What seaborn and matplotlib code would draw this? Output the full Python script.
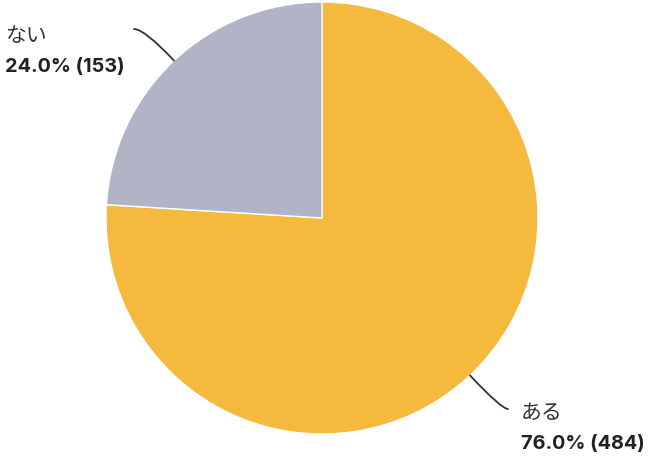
import numpy as np
import seaborn as sns
import matplotlib.pyplot as plt

# data
labels = ["ある", "ない"]
counts = [484, 153]
colors = ["#F5B93D", "#B1B3C6"]

sns.set_theme(style="white")
plt.rcParams["font.family"] = ["Noto Sans CJK JP", "DejaVu Sans"]

W, H = 650, 459
fig = plt.figure(figsize=(6.5, 4.59), dpi=100)
ax = fig.add_axes([0, 0, 1, 1])

cx, cy, r = 322, H - 218, 216
wedges, _ = ax.pie(counts, colors=colors, startangle=90, counterclock=False,
                   center=(cx, cy), radius=r, frame=True,
                   wedgeprops=dict(edgecolor="white", linewidth=1))
ax.set_xlim(0, W)
ax.set_ylim(0, H)
ax.set_aspect("equal")
ax.axis("off")

total = sum(counts)
# label positions: (line end x, y from top, text x, name y, value y)
label_pos = [(508, 409, 521, 413, 444), (134, 29, 5, 36, 67)]

for w, lab, n, (lx, ly, tx, ny, vy) in zip(wedges, labels, counts, label_pos):
    mid = np.deg2rad((w.theta1 + w.theta2) / 2)
    px, py = cx + r * np.cos(mid), cy + r * np.sin(mid)
    ax.annotate("", xy=(px, py), xytext=(lx, H - ly),
                arrowprops=dict(arrowstyle="-", color="#333333", lw=1.3,
                                shrinkA=0, shrinkB=0,
                                connectionstyle=f"angle3,angleA=0,angleB={np.rad2deg(mid):.1f}"))
    ax.text(tx, H - ny, lab, fontsize=15, color="#333333", va="center", ha="left")
    ax.text(tx, H - vy, f"{n / total * 100:.1f}% ({n})", fontsize=14.3,
            fontweight="bold", color="#222222", va="center", ha="left",
            family=["Inter", "DejaVu Sans"])

fig.savefig("out.png", dpi=100)
